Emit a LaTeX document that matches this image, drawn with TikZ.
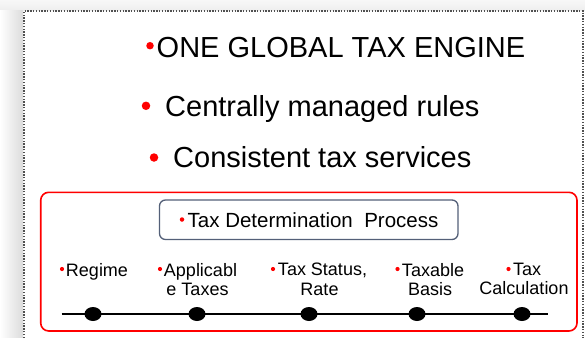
\documentclass[tikz,border=0pt]{standalone}
\usepackage{fontspec}
\setmainfont{Liberation Sans}
\usetikzlibrary{shapes.geometric}
\definecolor{slate}{RGB}{84,96,120}
\definecolor{dotgray}{RGB}{80,80,80}
\tikzset{
  bigtext/.style={anchor=base west, inner sep=0pt, font=\fontsize{29}{34}\selectfont},
  bul/.style={circle, fill=red, draw=none, inner sep=0pt, minimum size=#1},
  steplabel/.style={anchor=north, inner sep=0pt, align=center, font=\fontsize{18}{19.5}\selectfont},
  tldot/.style={ellipse, fill=black, draw=none, inner sep=0pt, minimum width=17pt, minimum height=14pt},
  redbox/.style={draw=red, line width=1.6pt, rounded corners=8pt},
  procbox/.style={draw=slate, line width=1.3pt, rounded corners=6pt, inner sep=0pt}
}
\begin{document}
\begin{tikzpicture}[x=1pt,y=-1pt]
\useasboundingbox (0,0) rectangle (585,337);
\fill[white] (0,0) rectangle (585,337);
% soft shadow / background
\shade[top color=gray!6, bottom color=gray!14] (0,0) rectangle (585,11);
\shade[left color=white, right color=gray!28] (0,11) rectangle (23,337);
\fill[white] (24,11) rectangle (583,337);
% dotted frame
\draw[dotgray, line width=1.3pt, dash pattern=on 1.4pt off 1.4pt] (24,338) -- (24,11) -- (583,11) -- (583,338);
% headline texts
\node[bul=7.5pt] (b1) at (150,45.7) {};
\node[bigtext] (t1) at (156.5,57.5) {ONE GLOBAL TAX ENGINE};
\node[bul=8.5pt] (b2) at (146,105.8) {};
\node[bigtext] (t2) at (165,116.5) {Centrally managed rules};
\node[bul=8.5pt] (b3) at (154,157.5) {};
\node[bigtext] (t3) at (173,167.8) {Consistent tax services};
% red box
\draw[redbox] (40.7,192.3) rectangle (577,331);
% process box
\draw[procbox] (159.5,200) rectangle (458,239.5);
\node[bul=4.5pt] (bp) at (182,219.5) {};
\node[anchor=base west, inner sep=0pt, font=\fontsize{20.5}{24}\selectfont] (proc) at (187.5,227.3) {Tax Determination\ \ Process};
% step labels
\node[steplabel] (l1) at (94,262.8) {\hspace*{6pt}Regime};
\node[steplabel] (l2) at (197.5,262.8) {\hspace*{6pt}Applicabl\\e Taxes};
\node[steplabel] (l3) at (319.5,262.8) {\hspace*{6pt}Tax Status,\\Rate};
\node[steplabel] (l4) at (430,262.8) {\hspace*{6pt}Taxable\\Basis};
\node[steplabel] (l5) at (524,262.8) {\hspace*{6pt}Tax\\Calculation};
\node[bul=4.2pt] (lb1) at (62,269) {};
\node[bul=4.2pt] (lb2) at (160,269) {};
\node[bul=4.2pt] (lb3) at (273,269) {};
\node[bul=4.2pt] (lb4) at (397.5,269) {};
\node[bul=4.2pt] (lb5) at (508.5,269) {};
% timeline
\coordinate (tls) at (61.7,314);
\coordinate (tle) at (548,314);
\draw[line width=2pt] (tls) -- (tle);
\node[tldot] (d1) at (93,314) {};
\node[tldot] (d2) at (197,314) {};
\node[tldot] (d3) at (309,314) {};
\node[tldot] (d4) at (417,314) {};
\node[tldot] (d5) at (522,314) {};
\end{tikzpicture}
\end{document}
